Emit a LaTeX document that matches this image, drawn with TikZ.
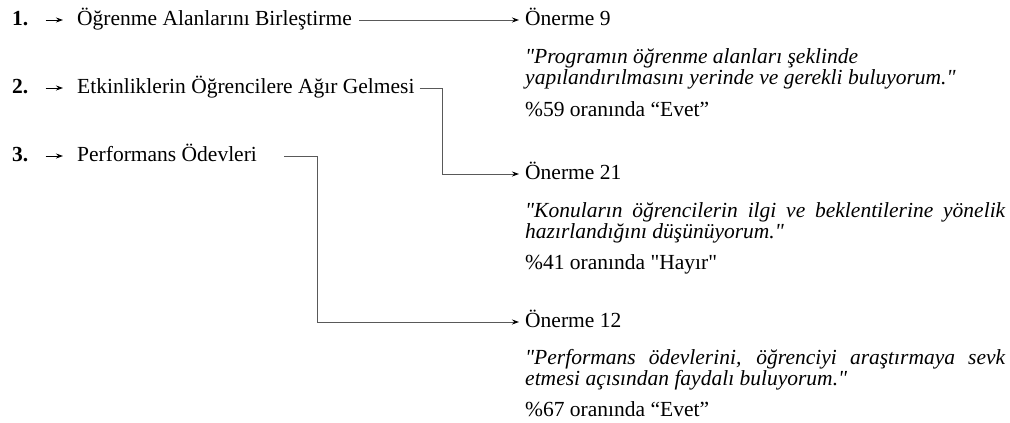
\documentclass[tikz,border=0pt]{standalone}
\usepackage{fontspec}
\setmainfont{Liberation Serif}
\usetikzlibrary{positioning,arrows.meta}

\tikzset{
  txt/.style={inner sep=0pt, text height=15pt, text depth=5pt,
    font=\fontsize{21.5}{21}\selectfont},
  num/.style={txt, anchor=west, font=\bfseries\fontsize{21.5}{21}\selectfont},
  item/.style={txt, anchor=west},
  prop/.style={txt, anchor=west},
  quote/.style={inner sep=0pt, anchor=base west, text width=480pt, align=justify,
    font=\itshape\fontsize{21.5}{21}\selectfont},
  ratio/.style={inner sep=0pt, anchor=base west, font=\fontsize{21.5}{21}\selectfont},
  link/.style={draw=black!65, line width=0.9pt},
  pointer/.style={draw=black, line width=0.9pt}
}
\newcommand{\qd}{\textquotedbl}

\begin{document}
\begin{tikzpicture}
	[x=1pt, y=-1pt, >={Stealth[length=7pt,width=5pt,black]}]
\useasboundingbox (0,0) rectangle (1010,423);

% left column
\node[num](n1) at (12,20){1.};
\node[num](n2) at (12,88){2.};
\node[num](n3) at (12,156){3.};
\node[item](t1) at (77,20){Öğrenme Alanlarını Birleştirme};
\node[item](t2) at (77,88){Etkinliklerin Öğrencilere Ağır Gelmesi};
\node[item](t3) at (77,156){Performans Ödevleri};

% right column
\node[prop](o9) at (525,20){Önerme 9};
\node[quote](q9) at (525,63){\qd Programın öğrenme alanları şeklinde\\yapılandırılmasını yerinde ve gerekli buluyorum.\qd};
\node[ratio](r9) at (525,116){\%59 oranında “Evet”};

\node[prop](o21) at (525,174){Önerme 21};
\node[quote](q21) at (525,217){\qd Konuların öğrencilerin ilgi ve beklentilerine yönelik\linebreak hazırlandığını düşünüyorum.\qd};
\node[ratio](r21) at (525,269){\%41 oranında \qd Hayır\qd};

\node[prop](o12) at (525,322){Önerme 12};
\node[quote](q12) at (525,364){\qd Performans ödevlerini, öğrenciyi araştırmaya sevk\linebreak etmesi açısından faydalı buluyorum.\qd};
\node[ratio](r12) at (525,416){\%67 oranında “Evet”};

% small arrows
\foreach \i in {1,2,3}
  \draw[pointer,->] ([xshift=17pt]n\i.east) -- ([xshift=-14pt]t\i.west);

% connectors
\draw[link,->] ([xshift=7pt]t1.east) -- ([xshift=-6pt]o9.west);
\draw[link,->] ([xshift=5pt]t2.east) -- ++(23,0) |- ([xshift=-6pt]o21.west);
\draw[link,->] ([xshift=27pt]t3.east) -- ++(33,0) |- ([xshift=-6pt]o12.west);
\end{tikzpicture}
\end{document}
